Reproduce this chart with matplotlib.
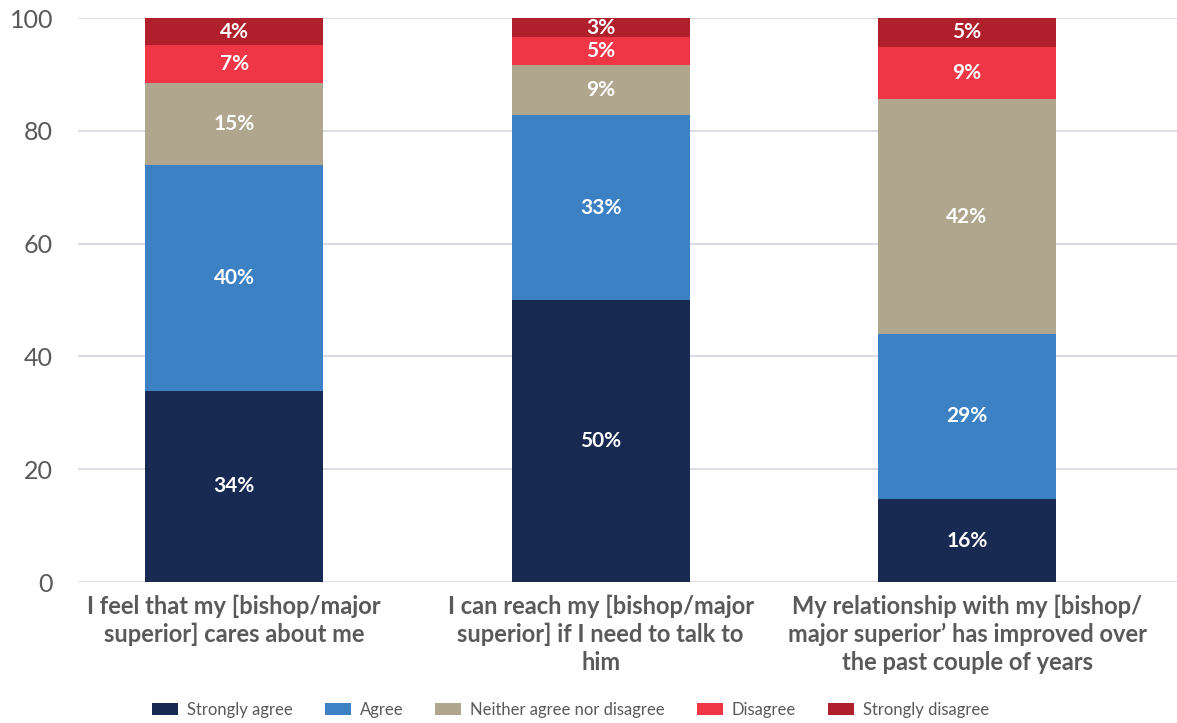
import matplotlib
matplotlib.use("Agg")
import matplotlib.pyplot as plt
import numpy as np

categories = [
    "I feel that my [bishop/major\nsuperior] cares about me",
    "I can reach my [bishop/major\nsuperior] if I need to talk to\nhim",
    "My relationship with my [bishop/\nmajor superior\u2019 has improved over\nthe past couple of years",
]
series_names = ["Strongly agree", "Agree", "Neither agree nor disagree", "Disagree", "Strongly disagree"]
strongly_agree = [33.9, 50.0, 14.7]
agree = [40.0, 32.8, 29.3]
neither = [14.6, 8.9, 41.6]
disagree = [6.7, 4.9, 9.3]
strongly_disagree = [4.8, 3.4, 5.1]
label_sa = ["34%", "50%", "16%"]
label_ag = ["40%", "33%", "29%"]
label_ne = ["15%", "9%", "42%"]
label_di = ["7%", "5%", "9%"]
label_sd = ["4%", "3%", "5%"]
yticks = [0, 20, 40, 60, 80, 100]

colors = ["#182a52", "#3b81c4", "#b0a68d", "#ef3646", "#b01f2c"]
series = [strongly_agree, agree, neither, disagree, strongly_disagree]
labels = [label_sa, label_ag, label_ne, label_di, label_sd]

plt.rcParams['font.family'] = ['Lato', 'DejaVu Sans']

fig = plt.figure(figsize=(11.77, 7.23), dpi=100)
ax = fig.add_axes([78/1177, 141/723, 1 - 78/1177, (582-18)/723])

x = np.arange(len(categories))
bottom = np.zeros(len(categories))
handles = []
for vals, col, name, labs in zip(series, colors, series_names, labels):
    b = ax.bar(x, vals, width=0.486, bottom=bottom, color=col, label=name, zorder=3)
    handles.append(b)
    for xi, v, bt, lab in zip(x, vals, bottom, labs):
        ax.text(xi, bt + v / 2, lab, ha='center', va='center', color='white',
                fontsize=15, fontweight='bold', zorder=4)
    bottom = bottom + np.array(vals)

ax.set_ylim(0, 100)
ax.set_xlim(-0.426, 2.573)
ax.set_yticks(yticks)
ax.set_yticklabels([str(t) for t in yticks])
ax.yaxis.grid(True, color='#d5d5e0', linewidth=1.2, zorder=0)
ax.set_axisbelow(True)
for s in ax.spines.values():
    s.set_visible(False)
ax.tick_params(axis='y', length=0, labelsize=18, labelcolor='#595959', pad=18)
ax.tick_params(axis='x', length=0, pad=9)
ax.set_xticks(x)
ax.set_xticklabels(categories, fontsize=17, fontweight='bold', color='#595959',
                   linespacing=1.26)

fig.legend(handles=handles, labels=series_names, loc='center', bbox_to_anchor=(0.4847, 0.018),
           ncol=5, frameon=False, fontsize=12, handlelength=1.56, handleheight=0.75,
           columnspacing=1.9, handletextpad=0.55, labelcolor='#595959')

fig.savefig("out.png", dpi=100)
